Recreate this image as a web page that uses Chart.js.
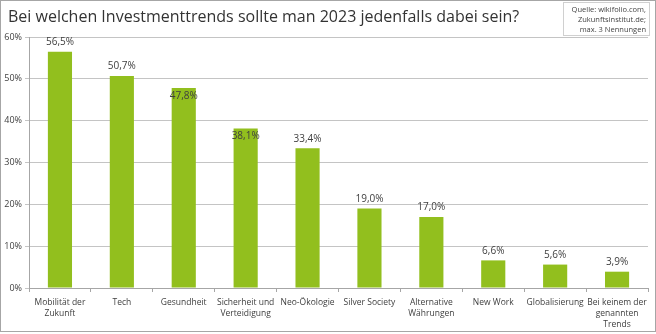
<!DOCTYPE html>
<html>
<head>
<meta charset="utf-8">
<script src="https://cdn.jsdelivr.net/npm/chart.js@4/dist/chart.umd.min.js"></script>
<style>
  html, body { margin: 0; padding: 0; background: #fff; }
  #wrap { position: relative; width: 656px; height: 334px; overflow: hidden; font-family: "Open Sans", sans-serif; }
  #frame { position: absolute; left: 0; top: 0; width: 654px; height: 330px; border: 1px solid #a6a6a6; pointer-events: none; }
  #title { position: absolute; left: 8px; top: 5px; font-size: 16px; color: #333; white-space: nowrap; }
  #source { position: absolute; left: 563px; top: 2px; width: 82px; height: 31px; border: 1px solid #d0d0d0; padding: 1px 3px 0 0; font-size: 7.5px; line-height: 10px; text-align: right; color: #444; white-space: nowrap; }
  canvas { position: absolute; left: 0; top: 0; }
</style>
</head>
<body>
<div id="wrap">
  <canvas id="c" width="656" height="334"></canvas>
  <div id="title">Bei welchen Investmenttrends sollte man 2023 jedenfalls dabei sein?</div>
  <div id="source">Quelle: wikifolio.com,<br>Zukunftsinstitut.de;<br>max. 3 Nennungen</div>
  <div id="frame"></div>
</div>
<script>
const categories = [
  ["Mobilität der", "Zukunft"],
  "Tech",
  "Gesundheit",
  ["Sicherheit und", "Verteidigung"],
  "Neo-Ökologie",
  "Silver Society",
  ["Alternative", "Währungen"],
  "New Work",
  "Globalisierung",
  ["Bei keinem der", "genannten", "Trends"]
];
const values = [56.5, 50.7, 47.8, 38.1, 33.4, 19.0, 17.0, 6.6, 5.6, 3.9];
const valueLabels = ["56,5%", "50,7%", "47,8%", "38,1%", "33,4%", "19,0%", "17,0%", "6,6%", "5,6%", "3,9%"];
const labelsInsideBar = [2, 3];
const yTicks = [0, 10, 20, 30, 40, 50, 60];

const dataLabelPlugin = {
  id: 'dataLabels',
  afterDatasetsDraw(chart) {
    const ctx = chart.ctx;
    const meta = chart.getDatasetMeta(0);
    ctx.save();
    ctx.font = '10px "Open Sans", sans-serif';
    ctx.fillStyle = '#404040';
    ctx.textAlign = 'center';
    ctx.textBaseline = 'middle';
    meta.data.forEach((bar, i) => {
      const inside = labelsInsideBar.includes(i);
      const y = inside ? bar.y + 8 : bar.y - 9.5;
      ctx.fillText(valueLabels[i], bar.x, y);
    });
    ctx.restore();
  }
};

new Chart(document.getElementById('c'), {
  type: 'bar',
  data: {
    labels: categories,
    datasets: [{
      data: values,
      backgroundColor: '#92bf1e',
      borderWidth: 0,
      categoryPercentage: 1,
      barPercentage: 0.39
    }]
  },
  options: {
    responsive: false,
    animation: false,
    devicePixelRatio: 1,
    layout: { padding: { top: 37, right: 8, bottom: 0, left: 0 } },
    plugins: { legend: { display: false }, tooltip: { enabled: false }, title: { display: false } },
    scales: {
      x: {
        offset: true,
        grid: { offset: true, drawOnChartArea: false, drawTicks: true, tickLength: 4, color: '#a6a6a6' },
        border: { color: '#a6a6a6' },
        ticks: {
          color: '#404040',
          font: { family: '"Open Sans", sans-serif', size: 8.5, lineHeight: 1.3 },
          maxRotation: 0, autoSkip: false, padding: 5
        },
        afterFit(scale) { scale.height = 46; }
      },
      y: {
        min: 0, max: 60,
        afterBuildTicks(scale) { scale.ticks = yTicks.map(v => ({ value: v })); },
        grid: { color: '#c4c4c4', tickLength: 4 },
        border: { color: '#a6a6a6' },
        ticks: {
          color: '#404040',
          font: { family: '"Open Sans", sans-serif', size: 9 },
          padding: 3,
          callback: v => v + '%'
        },
        afterFit(scale) { scale.width = 29; }
      }
    }
  },
  plugins: [dataLabelPlugin]
});
</script>
</body>
</html>
